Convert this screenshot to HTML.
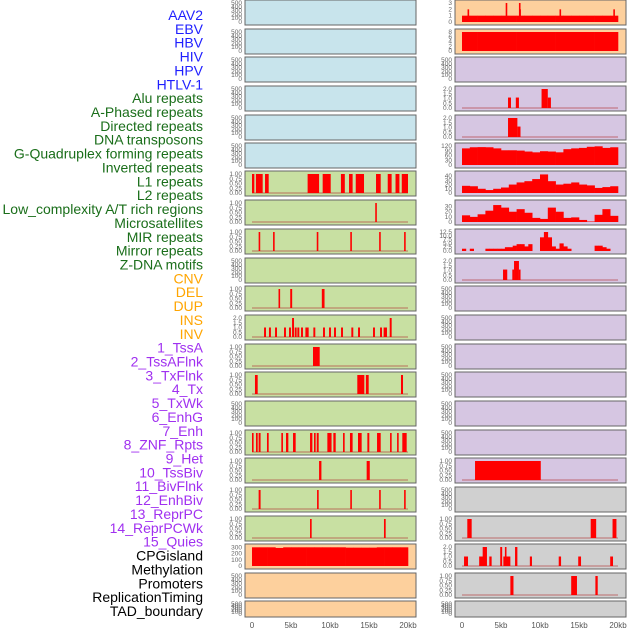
<!DOCTYPE html>
<html><head><meta charset="utf-8">
<style>
html,body{margin:0;padding:0;background:#fff;width:630px;height:630px;overflow:hidden}
svg{display:block}
.lbl{font-family:"Liberation Sans",sans-serif;font-size:14px}
.tk{font-family:"Liberation Sans",sans-serif;font-size:6.5px;fill:#666}
.xt{font-family:"Liberation Sans",sans-serif;font-size:8px;fill:#555}
</style></head>
<body>
<svg id="chart" width="630" height="630" viewBox="0 0 630 630" xmlns="http://www.w3.org/2000/svg"></svg>
<script>
// ---------- data ----------
const trackLabels=["AAV2","EBV","HBV","HIV","HPV","HTLV-1","Alu repeats","A-Phased repeats","Directed repeats","DNA transposons","G-Quadruplex forming repeats","Inverted repeats","L1 repeats","L2 repeats","Low_complexity A/T rich regions","Microsatellites","MIR repeats","Mirror repeats","Z-DNA motifs","CNV","DEL","DUP","INS","INV","1_TssA","2_TssAFlnk","3_TxFlnk","4_Tx","5_TxWk","6_EnhG","7_Enh","8_ZNF_Rpts","9_Het","10_TssBiv","11_BivFlnk","12_EnhBiv","13_ReprPC","14_ReprPCWk","15_Quies","CPGisland","Methylation","Promoters","ReplicationTiming","TAD_boundary"];
const labelGroups=["v","v","v","v","v","v","g","g","g","g","g","g","g","g","g","g","g","g","g","o","o","o","o","o","p","p","p","p","p","p","p","p","p","p","p","p","p","p","p","k","k","k","k","k"];
const xTickValues=[0,5,10,15,20];
const xTickLabels=["0","5kb","10kb","15kb","20kb"];
const emptyTicks=[0,100,200,300,400,500];
const binaryTicks=["0.00","0.25","0.50","0.75","1.00"];

const leftL1Spans=[[0,0.3],[0.5,1.37],[1.67,2.14],[7.13,8.6],[9.06,10.09],[11.4,11.9],[12.44,12.9],[13.3,14.36],[15.9,16.5],[17.4,17.9],[18.4,18.9],[19.2,20]];
const leftRow7Spans=[[15.8,16.0]];
const leftRow8Spans=[[0.85,1.05],[2.7,2.9],[8.3,8.5],[12.6,12.8],[16.3,16.5],[19.5,19.7]];
const leftRow10Spans=[[3.4,3.6],[4.9,5.15],[8.95,9.3]];
const leftInsPos=[1.67,2.3,3.08,4.23,4.87,5.26,5.6,5.94,6.41,6.97,7.14,7.99,9.23,10,10.64,11.54,12.86,13.72,15.64,16.54,17,17.18,17.78];
const leftInsVal=[1,1,1,1,1,2,1,1,1,1,1,1,1,1,1,1,1,1,1,1,1,1,2];
const leftRow12Spans=[[7.82,8.68]];
const leftRow13Spans=[[0.38,0.73],[13.5,14.4],[14.6,14.96],[19.1,19.36]];
const leftRow15Spans=[[0,0.2],[0.51,0.73],[0.85,1.1],[1.92,2.14],[3.76,3.97],[4.36,4.66],[5.26,5.6],[7.44,7.74],[7.95,8.16],[8.3,8.55],[9.66,10.2],[10.43,10.73],[11.67,11.88],[12.56,12.9],[13.59,14.06],[14.79,15.04],[16.03,16.5],[17.7,17.9],[18.6,18.8],[19.27,19.83]];
const leftRow16Spans=[[8.6,8.9],[14.7,15.1]];
const leftRow17Spans=[[0.85,1.1],[8.34,8.55],[12.6,12.8],[16.3,16.5],[19.5,19.7]];
const leftRow18Spans=[[7.44,7.65],[16.92,17.14]];
const cpgLeftValues=[300,300,300,290,300,300,300,300,300,300,300,300,295,295,295,295,300,300,300,300];

const aav2Values=[1,1,1,1,1,1,1,1,1,1,1,1,1,1,1,1,1,1,1,1];
const aav2SpikePos=[0.81,5.7,7.4,7.45,12.6,19.5];
const aav2SpikeVal=[2,3,3,2,2,2];
const ebvValues=[8,8,8,8,8,8,8,8,8,8,8,8,8,8,8,8,8,8,8,8];
const r3Spans=[[5.9,6.28],[6.9,7.3],[10.2,11.0],[11.0,11.4]];
const r3Vals=[1.1,1.1,2,1.1];
const r4Spans=[[5.9,7.1],[7.1,7.5]];
const r4Vals=[2,1.1];
const g4Values=[105,112,113,112,105,93,93,91,85,80,87,85,80,100,105,108,115,118,108,112];
const l1Values=[17,16,10,7,10,13,20,25,28,33,44,28,20,22,25,20,18,12,14,16];
const lowCxValues=[13,10,15,22,33,28,20,25,18,8,6,28,20,8,9,4,1,14,25,12];
const mirValues=[1.5,0,1.5,0,0,0,1.5,1.5,1.5,1.5,1.5,2.5,2.5,3.5,4.5,4.5,3,4.5,0,0,9,12.5,9,3,1.5,5,3,1.5,0,0,0,0,0,0,3.5,3.5,2.5,1.5,0,0];
const mirrorSpans=[[5.26,5.8],[6.45,6.67],[6.67,7.3],[7.3,7.44]];
const mirrorVals=[1.1,1.1,2,1.1];
const r16Spans=[[1.67,10.1]];
const r18Spans=[[0.68,1.24],[16.5,17.2],[19.3,19.8]];
const cpgSpans=[[0.26,0.77],[2.2,2.7],[2.65,3.2],[3.5,3.8],[4.9,5.15],[5.3,6.2],[5.5,5.7],[6.8,7.1],[8.7,8.97],[12.4,12.7],[14.9,15.26],[19,19.36]];
const cpgVals=[1,1,2,1,2,1,2,2,1,1,1,1];
const promoterSpans=[[6.2,6.6],[14,14.74],[17.1,17.4]];

// ---------- layout ----------
const rowTops=[0,29,57,86,115,143,171,200,229,258,286,315,344,372,401,430,458,487,516,544,573,601];
const colors={blue:"#c8e4ec",green:"#c8e0a2",orange:"#fdd09d",purple:"#d6c6e2",grey:"#d0d0d0"};
const labelColors={v:"#1f1fff",g:"#1a6e1a",o:"#ffa500",p:"#a030f0",k:"#000"};
const svg=document.getElementById('chart');
const NS="http://www.w3.org/2000/svg";
function mk(tag,attrs,parent){const e=document.createElementNS(NS,tag);for(const k in attrs)e.setAttribute(k,attrs[k]);(parent||svg).appendChild(e);return e;}
function geom(side,row){return {x:side?455:245,y:rowTops[row],w:171,h:row===21?16:25};}
function xs(g,kb){return g.x+7+kb*7.8;}
function ys(g,v,max){return g.y+g.h-3-v/max*(g.h-6);}

trackLabels.forEach((t,i)=>{
  const el=mk('text',{x:203,y:20+i*13.86,'text-anchor':'end',class:'lbl',fill:labelColors[labelGroups[i]]});
  el.textContent=t;
  
  
});

function panel(side,row,bg,name){
  const g=geom(side,row);
  const grp=mk('g',{});
  
  
  mk('rect',{x:g.x,y:g.y,width:g.w,height:g.h,fill:colors[bg],stroke:'#666','stroke-width':1},grp);
  return {g,grp};
}
function ticks(p,vals,labels,max){
  vals.forEach((v,i)=>{
    const t=mk('text',{x:p.g.x-3,y:ys(p.g,v,max)+2,'text-anchor':'end',class:'tk'},p.grp);
    t.textContent=labels[i];
  });
}
function emptyPanel(side,row,bg,name){
  const p=panel(side,row,bg,name);
  ticks(p,emptyTicks,emptyTicks.map(String),500);
}
function baseline(p){
  mk('line',{x1:xs(p.g,0),x2:xs(p.g,20),y1:ys(p.g,0,1),y2:ys(p.g,0,1),stroke:'#b03030','stroke-width':1.2,opacity:0.5},p.grp);
}
function spansPanel(side,row,bg,name,spans,vals,max,tickVals,tickLabels){
  const p=panel(side,row,bg,name);
  ticks(p,tickVals,tickLabels,max);
  baseline(p);
  spans.forEach((s,i)=>{
    const v=vals?vals[i]:1;
    const r=mk('rect',{x:xs(p.g,s[0]),y:ys(p.g,v,max),width:Math.max(1.6,xs(p.g,s[1])-xs(p.g,s[0])),height:ys(p.g,0,max)-ys(p.g,v,max),fill:'#ff0000'},p.grp);
    
    
  });
  return p;
}
function histPanel(side,row,bg,name,values,max,tickVals,tickLabels){
  const p=panel(side,row,bg,name);
  ticks(p,tickVals,tickLabels,max);
  const bw=20/values.length;
  values.forEach((v,i)=>{
    if(v<=0)return;
    const r=mk('rect',{x:xs(p.g,i*bw),y:ys(p.g,v,max),width:xs(p.g,(i+1)*bw)-xs(p.g,i*bw)+0.3,height:ys(p.g,0,max)-ys(p.g,v,max),fill:'#ff0000'},p.grp);
    
    
  });
  return p;
}
const bT=[0,0.25,0.5,0.75,1];
function pointSpans(pos,w){return pos.map(x=>[x-w/2,x+w/2]);}

for(let r=0;r<6;r++) emptyPanel(0,r,'blue','left-panel-'+r);
spansPanel(0,6,'green','left-panel-6',leftL1Spans,null,1,bT,binaryTicks);
spansPanel(0,7,'green','left-panel-7',leftRow7Spans,null,1,bT,binaryTicks);
spansPanel(0,8,'green','left-panel-8',leftRow8Spans,null,1,bT,binaryTicks);
emptyPanel(0,9,'green','left-panel-9');
spansPanel(0,10,'green','left-panel-10',leftRow10Spans,null,1,bT,binaryTicks);
spansPanel(0,11,'green','left-panel-11',pointSpans(leftInsPos,0.25),leftInsVal,2,[0,0.5,1,1.5,2],["0.0","0.5","1.0","1.5","2.0"]);
spansPanel(0,12,'green','left-panel-12',leftRow12Spans,null,1,bT,binaryTicks);
spansPanel(0,13,'green','left-panel-13',leftRow13Spans,null,1,bT,binaryTicks);
emptyPanel(0,14,'green','left-panel-14');
spansPanel(0,15,'green','left-panel-15',leftRow15Spans,null,1,bT,binaryTicks);
spansPanel(0,16,'green','left-panel-16',leftRow16Spans,null,1,bT,binaryTicks);
spansPanel(0,17,'green','left-panel-17',leftRow17Spans,null,1,bT,binaryTicks);
spansPanel(0,18,'green','left-panel-18',leftRow18Spans,null,1,bT,binaryTicks);
histPanel(0,19,'orange','left-panel-19',cpgLeftValues,305,[0,100,200,300],["0","100","200","300"]);
emptyPanel(0,20,'orange','left-panel-20');
emptyPanel(0,21,'orange','left-panel-21');

const p0=histPanel(1,0,'orange','right-panel-0',aav2Values,3,[0,1,2,3],["0","1","2","3"]);
aav2SpikePos.forEach((x,i)=>{
  const r=mk('rect',{x:xs(p0.g,x-0.1),y:ys(p0.g,aav2SpikeVal[i],3),width:1.6,height:ys(p0.g,0,3)-ys(p0.g,aav2SpikeVal[i],3),fill:'#ff0000'},p0.grp);
  
  
});
histPanel(1,1,'orange','right-panel-1',ebvValues,8,[0,2,4,6,8],["0","2","4","6","8"]);
emptyPanel(1,2,'purple','right-panel-2');
const t2=[0,0.5,1,1.5,2],l2=["0.0","0.5","1.0","1.5","2.0"];
spansPanel(1,3,'purple','right-panel-3',r3Spans,r3Vals,2,t2,l2);
spansPanel(1,4,'purple','right-panel-4',r4Spans,r4Vals,2,t2,l2);
histPanel(1,5,'purple','right-panel-5',g4Values,120,[0,30,60,90,120],["0","30","60","90","120"]);
histPanel(1,6,'purple','right-panel-6',l1Values,45,[0,10,20,30,40],["0","10","20","30","40"]);
histPanel(1,7,'purple','right-panel-7',lowCxValues,37,[0,10,20,30],["0","10","20","30"]);
histPanel(1,8,'purple','right-panel-8',mirValues,12.5,[0,2.5,5,7.5,10,12.5],["0.0","2.5","5.0","7.5","10.0","12.5"]);
spansPanel(1,9,'purple','right-panel-9',mirrorSpans,mirrorVals,2,t2,l2);
for(let r=10;r<16;r++) emptyPanel(1,r,'purple','right-panel-'+r);
spansPanel(1,16,'purple','right-panel-16',r16Spans,null,1,bT,binaryTicks);
emptyPanel(1,17,'grey','right-panel-17');
spansPanel(1,18,'grey','right-panel-18',r18Spans,null,1,bT,binaryTicks);
spansPanel(1,19,'grey','right-panel-19',cpgSpans,cpgVals,2,t2,l2);
spansPanel(1,20,'grey','right-panel-20',promoterSpans,null,1,bT,binaryTicks);
emptyPanel(1,21,'grey','right-panel-21');

[0,1].forEach(side=>{
  const g=geom(side,21);
  xTickValues.forEach((v,i)=>{
    const t=mk('text',{x:xs(g,v),y:628,'text-anchor':'middle',class:'xt'});
    t.textContent=xTickLabels[i];
    
    
  });
});
</script>
</body></html>
